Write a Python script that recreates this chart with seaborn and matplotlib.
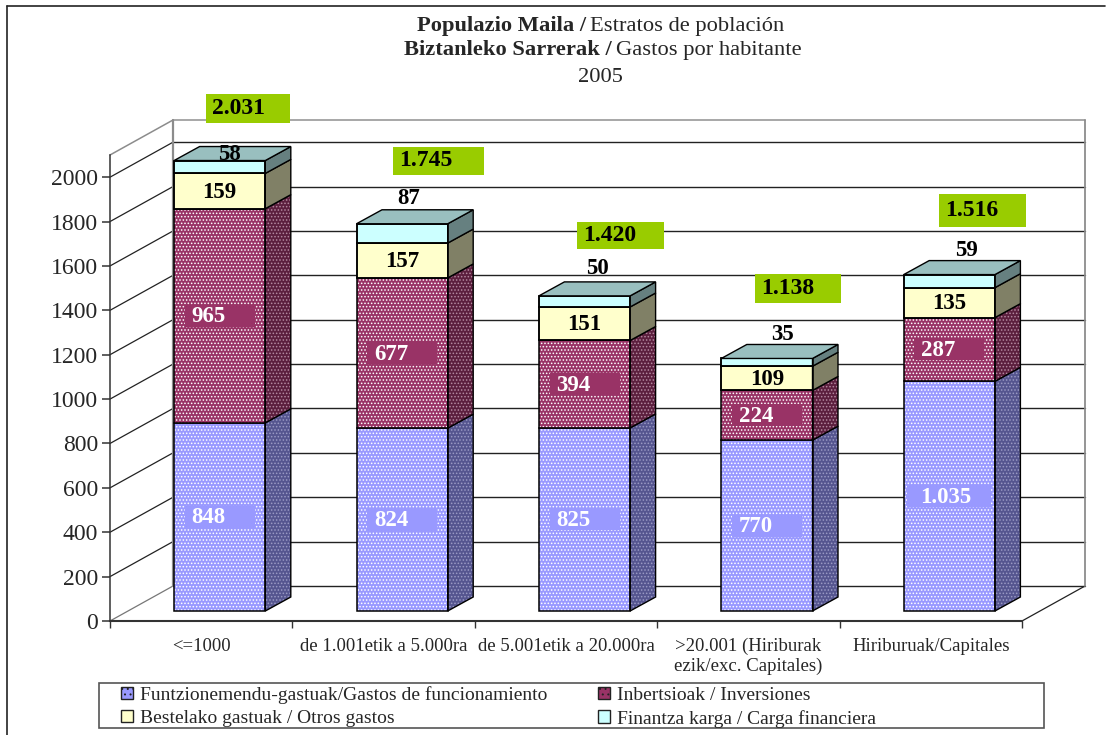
import numpy as np
import matplotlib
matplotlib.use("Agg")
import matplotlib.pyplot as plt
from matplotlib.patches import Patch, Polygon, Rectangle
import seaborn as sns

# values
CATEGORIES = ["<=1000", "de 1.001etik a 5.000ra", "de 5.001etik a 20.000ra",
              ">20.001 (Hiriburak\nezik/exc. Capitales)", "Hiriburuak/Capitales"]
FUNCIONAMIENTO = [848, 824, 825, 770, 1035]
INVERSIONES = [965, 677, 394, 224, 287]
OTROS = [159, 157, 151, 109, 135]
FINANCIERA = [58, 87, 50, 35, 59]
TOTALS = [2031, 1745, 1420, 1138, 1516]
Y_TICKS = [0, 200, 400, 600, 800, 1000, 1200, 1400, 1600, 1800, 2000]
LEGEND_LABELS = ["Funtzionemendu-gastuak/Gastos de funcionamiento",
                 "Bestelako gastuak / Otros gastos",
                 "Inbertsioak / Inversiones",
                 "Finantza karga / Carga financiera"]

W, H = 1114, 735
YMAX = 2100
FONT = "Liberation Serif"

# hand placed labels in the original, pixel positions
TOTAL_BOXES = [(206, 94, 84, 29), (393, 147, 91, 28), (577, 222, 87, 27),
               (755, 274, 86, 29), (939, 194, 87, 33)]
TOP_LABELS_XY = [(229, 155), (409, 199), (597, 268), (783, 334), (967, 251)]


def fx(x):
    return x / W


def fy(y):
    return 1 - y / H


def thousands(v):
    return f"{v:,}".replace(",", ".")


sns.set_style("white")
plt.rcParams["font.family"] = FONT
plt.rcParams["hatch.linewidth"] = 0.7

fig = plt.figure(figsize=(W / 100, H / 100), dpi=100, facecolor="white")

# front plane with the axis, walls are sheared from it
ax = fig.add_axes([fx(110), fy(621), 912 / W, 466 / H])
ax.set_xlim(-0.5, 4.5)
ax.set_ylim(0, YMAX)
ax.set_facecolor("none")
wall_dx = 63 / 182.4
wall_dy = 35 / 0.222
x0, x1 = -0.5, 4.5
for v in Y_TICKS:
    ax.plot([x0 + wall_dx, x1 + wall_dx], [v + wall_dy] * 2, color="#222222", lw=1.0,
            clip_on=False, zorder=1)
    ax.plot([x0, x0 + wall_dx], [v, v + wall_dy], color="#222222" if v else "#777777",
            lw=0.9, clip_on=False, zorder=1)
ax.plot([x1, x1 + wall_dx], [0, wall_dy], color="#222222", lw=0.9, clip_on=False)
ax.plot([x0, x0 + wall_dx], [YMAX, YMAX + wall_dy], color="#8c8c8c", lw=1.1, clip_on=False)
ax.plot([x0 + wall_dx, x1 + wall_dx], [YMAX + wall_dy] * 2, color="#a0a0a0", lw=1.3, clip_on=False)
ax.plot([x0 + wall_dx] * 2, [wall_dy, YMAX + wall_dy], color="#8c8c8c", lw=1.6, clip_on=False)
ax.plot([x1 + wall_dx] * 2, [wall_dy, YMAX + wall_dy], color="#8c8c8c", lw=1.3, clip_on=False)

sns.despine(ax=ax, top=True, right=True)
ax.spines["left"].set_color("#333333")
ax.spines["bottom"].set_color("#333333")
ax.spines["bottom"].set_linewidth(1.5)
ax.spines["left"].set_linewidth(1.1)
ax.set_yticks(Y_TICKS)
ax.set_xticks(np.arange(6) - 0.5)
ax.set_xticklabels([])
ax.set_xticks(np.arange(5), labels=CATEGORIES, minor=True)
ax.tick_params(axis="y", length=6, width=1.1, color="#333333", labelsize=17, pad=2.5, left=True)
ax.tick_params(axis="x", which="major", length=5, width=1.0, color="#333333", bottom=True)
ax.tick_params(axis="x", which="minor", length=0, labelsize=13.5, pad=12, bottom=False)

# bars sit further back than the axis plane
bar_ax = fig.add_axes([fx(128.5), fy(611), 912 / W, 466 / H])
bar_ax.set_facecolor("none")
bar_dx = 25.5 / 182.4
bar_dy = 14 / 0.222

segments = [
    (FUNCIONAMIENTO, "#9999ff", "#55558f", "#ffffff", "#9a9ac4"),
    (INVERSIONES, "#993366", "#5c1f3e", "#ffffff", "#b48aa0"),
    (OTROS, "#ffffcc", "#808066", None, None),
    (FINANCIERA, "#ccffff", "#668080", None, None),
]
bottoms = np.zeros(5)
bar_groups = []
for vals, front, side, dots, side_dots in segments:
    kw = {"hatch": ".....", "edgecolor": dots, "linewidth": 0} if dots else {"edgecolor": "black", "linewidth": 1.1}
    n = len(bar_ax.patches)
    sns.barplot(x=CATEGORIES, y=vals, bottom=bottoms.copy(), color=front, saturation=1,
                width=0.5, errorbar=None, ax=bar_ax, **kw)
    new = bar_ax.patches[n:]
    bar_groups.append(new)
    for p in new:
        x, y, w, h = p.get_x(), p.get_y(), p.get_width(), p.get_height()
        right = x + w
        pts = [(right, y), (right + bar_dx, y + bar_dy), (right + bar_dx, y + h + bar_dy), (right, y + h)]
        if dots:
            bar_ax.add_patch(Polygon(pts, facecolor=side, edgecolor=side_dots, hatch=".....", lw=0, clip_on=False))
        else:
            bar_ax.add_patch(Polygon(pts, facecolor=side, edgecolor="none", clip_on=False))
        bar_ax.add_patch(Polygon(pts, facecolor="none", edgecolor="black", lw=1.0, clip_on=False))
        bar_ax.add_patch(Rectangle((x, y), w, h, facecolor="none", edgecolor="black", lw=1.1, clip_on=False))
    bottoms += np.array(vals)

for p in bar_groups[-1]:
    x, w, top = p.get_x(), p.get_width(), p.get_y() + p.get_height()
    pts = [(x, top), (x + bar_dx, top + bar_dy), (x + w + bar_dx, top + bar_dy), (x + w, top)]
    bar_ax.add_patch(Polygon(pts, facecolor="#99bfbf", edgecolor="black", lw=1.0, clip_on=False))

bar_ax.set_xlim(-0.5, 4.5)
bar_ax.set_ylim(0, YMAX)
bar_ax.axis("off")


def bar_center_px(p):
    cx, cy = bar_ax.transData.transform((p.get_x() + p.get_width() / 2, p.get_y() + p.get_height() / 2))
    return cx, H - cy


# labels inside the segments
for group, box_color in ((bar_groups[0], "#9999ff"), (bar_groups[1], "#993366")):
    for p in group:
        v = int(round(p.get_height()))
        cx, cy = bar_center_px(p)
        bw = 84 if v >= 1000 else 70
        off = -4 if v >= 1000 else -11
        fig.add_artist(Rectangle((fx(cx - bw / 2), fy(cy + 11)), bw / W, 22 / H,
                                 transform=fig.transFigure, facecolor=box_color, edgecolor="none", zorder=2))
        fig.text(fx(cx + off), fy(cy + 1), thousands(v), color="white", fontsize=16.5, fontweight="bold",
                 ha="center", va="center", zorder=3)

for p in bar_groups[2]:
    cx, cy = bar_center_px(p)
    fig.text(fx(cx), fy(cy + 1), str(int(round(p.get_height()))), color="black", fontsize=16.5,
             fontweight="bold", ha="center", va="center", zorder=3)

for (lx, ly), v in zip(TOP_LABELS_XY, FINANCIERA):
    fig.text(fx(lx), fy(ly), str(v), color="black", fontsize=16.5, fontweight="bold",
             ha="center", va="center", zorder=3)

for (bx, by, bw, bh), v in zip(TOTAL_BOXES, TOTALS):
    fig.add_artist(Rectangle((fx(bx), fy(by + bh)), bw / W, bh / H, transform=fig.transFigure,
                             facecolor="#99cc00", edgecolor="none", zorder=2))
    fig.text(fx(bx + 6), fy(by + bh / 2), thousands(v), color="black", fontsize=17,
             fontweight="bold", ha="left", va="center", zorder=3)

# title, bold part then plain part
fig.text(fx(586), fy(26), "Populazio Maila /", fontsize=16.2, fontweight="bold", ha="right", va="center")
fig.text(fx(590), fy(26), "Estratos de población", fontsize=16.2, ha="left", va="center")
fig.text(fx(612), fy(50), "Biztanleko Sarrerak /", fontsize=16.2, fontweight="bold", ha="right", va="center")
fig.text(fx(616), fy(50), "Gastos por habitante", fontsize=16.2, ha="left", va="center")
fig.text(fx(600), fy(77), "2005", fontsize=16.2, ha="center", va="center")

# outer frame, open at right and bottom like the crop
fig.add_artist(plt.Line2D([fx(7), fx(7)], [fy(6), 0], color="#222222", lw=1.2))
fig.add_artist(plt.Line2D([fx(7), fx(1105)], [fy(6), fy(6)], color="#222222", lw=1.2))

handles = [
    Patch(facecolor="#9999ff", edgecolor="#222222", hatch="..."),
    Patch(facecolor="#ffffcc", edgecolor="#222222"),
    Patch(facecolor="#993366", edgecolor="#222222", hatch="..."),
    Patch(facecolor="#ccffff", edgecolor="#222222"),
]
fig.add_artist(Rectangle((fx(99), fy(728)), 945 / W, 45 / H, transform=fig.transFigure,
                         facecolor="white", edgecolor="#555555", lw=1.2, zorder=2))
leg = fig.legend(handles, LEGEND_LABELS, ncol=2, loc="upper left",
                 bbox_to_anchor=(fx(121), fy(686)), fontsize=14, frameon=False,
                 borderaxespad=0, handlelength=0.63, handleheight=0.63, labelspacing=0.3,
                 handletextpad=0.35, borderpad=0, columnspacing=2.6)

fig.savefig("out.png", dpi=100)
